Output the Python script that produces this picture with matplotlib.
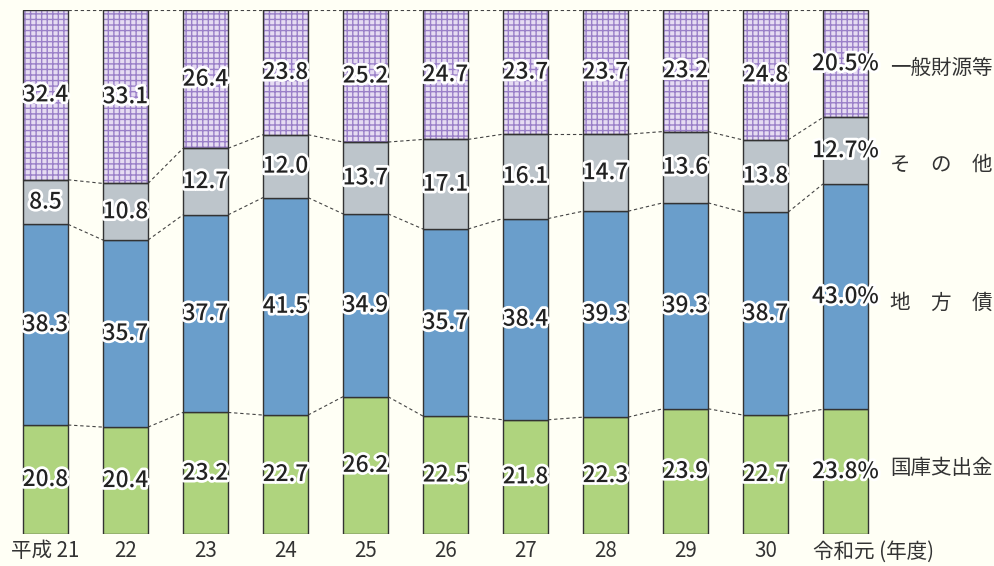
import numpy as np
import matplotlib
matplotlib.use("Agg")
import matplotlib.pyplot as plt
import matplotlib.patheffects as pe

plt.rcParams['font.family'] = ['Noto Sans CJK JP', 'DejaVu Sans']
plt.rcParams['hatch.linewidth'] = 1.0

# --- Data ---
years = ['平成 21', '22', '23', '24', '25', '26', '27', '28', '29', '30', '令和元 (年度)']
kokko = [20.8, 20.4, 23.2, 22.7, 26.2, 22.5, 21.8, 22.3, 23.9, 22.7, 23.8]      # 国庫支出金
chihousai = [38.3, 35.7, 37.7, 41.5, 34.9, 35.7, 38.4, 39.3, 39.3, 38.7, 43.0]  # 地方債
sonota = [8.5, 10.8, 12.7, 12.0, 13.7, 17.1, 16.1, 14.7, 13.6, 13.8, 12.7]      # その他
ippan = [32.4, 33.1, 26.4, 23.8, 25.2, 24.7, 23.7, 23.7, 23.2, 24.8, 20.5]      # 一般財源等
series_names = ['国庫支出金', '地　方　債', 'そ　の　他', '一般財源等']

series = [kokko, chihousai, sonota, ippan]
colors = ['#AFD47E', '#6A9ECB', '#BDC5CB', '#E6DCF2']
BG = '#FFFFF5'

fig = plt.figure(figsize=(9.95, 5.66), dpi=100, facecolor=BG)
ax = fig.add_axes([0, 32 / 566, 1, 524 / 566])
ax.set_facecolor(BG)

x = np.arange(len(years))
w = 45 / 80
stroke = [pe.withStroke(linewidth=4, foreground='white')]

bottom = np.zeros(len(years))
bounds = [bottom.copy()]
for k, (vals, col) in enumerate(zip(series, colors)):
    vals = np.array(vals)
    if k == 3:
        # hatched top segment: fill + purple grid, then dark outline
        ax.bar(x, vals, w, bottom=bottom, color=col, edgecolor='#9A80C8',
               hatch='+++', linewidth=0, zorder=2)
        ax.bar(x, vals, w, bottom=bottom, fill=False, edgecolor='#333333',
               linewidth=1.0, zorder=3)
    else:
        ax.bar(x, vals, w, bottom=bottom, color=col, edgecolor='#333333',
               linewidth=1.0, zorder=3)
    for i, v in enumerate(vals):
        lab = f'{v:.1f}' + ('%' if i == len(years) - 1 else '')
        ax.text(x[i], bottom[i] + v / 2, lab, ha='center', va='center',
                fontsize=16.3, fontweight='medium', color='#222222',
                path_effects=stroke, zorder=5)
    bottom = bottom + vals
    bounds.append(bottom.copy())

# dashed connectors between bars
for b in bounds[1:]:
    for i in range(len(years) - 1):
        ax.plot([x[i] + w / 2, x[i + 1] - w / 2], [b[i], b[i + 1]],
                ls=(0, (3, 2.5)), color='#444444', lw=0.8, zorder=1)

# series labels on the right
label_y = [12.6, 44.1, 70.4, 88.9]
for name, yy in zip(series_names, label_y):
    ax.text(10.555, yy, name, ha='left', va='center', fontsize=14.8, color='#333333')

# year labels
for i, lab in enumerate(years):
    if i == len(years) - 1:
        ax.text(x[i] - w / 2 - 0.12, -3.3, lab, ha='left', va='center',
                fontsize=14.8, color='#333333', clip_on=False)
    else:
        ax.text(x[i], -3.3, lab, ha='center', va='center',
                fontsize=14.8, color='#333333', clip_on=False)

ax.set_xlim(-45.5 / 80, (995 - 45.5) / 80)
ax.set_ylim(0, 100)
ax.axis('off')

fig.savefig('out.png', dpi=100, facecolor=BG)
